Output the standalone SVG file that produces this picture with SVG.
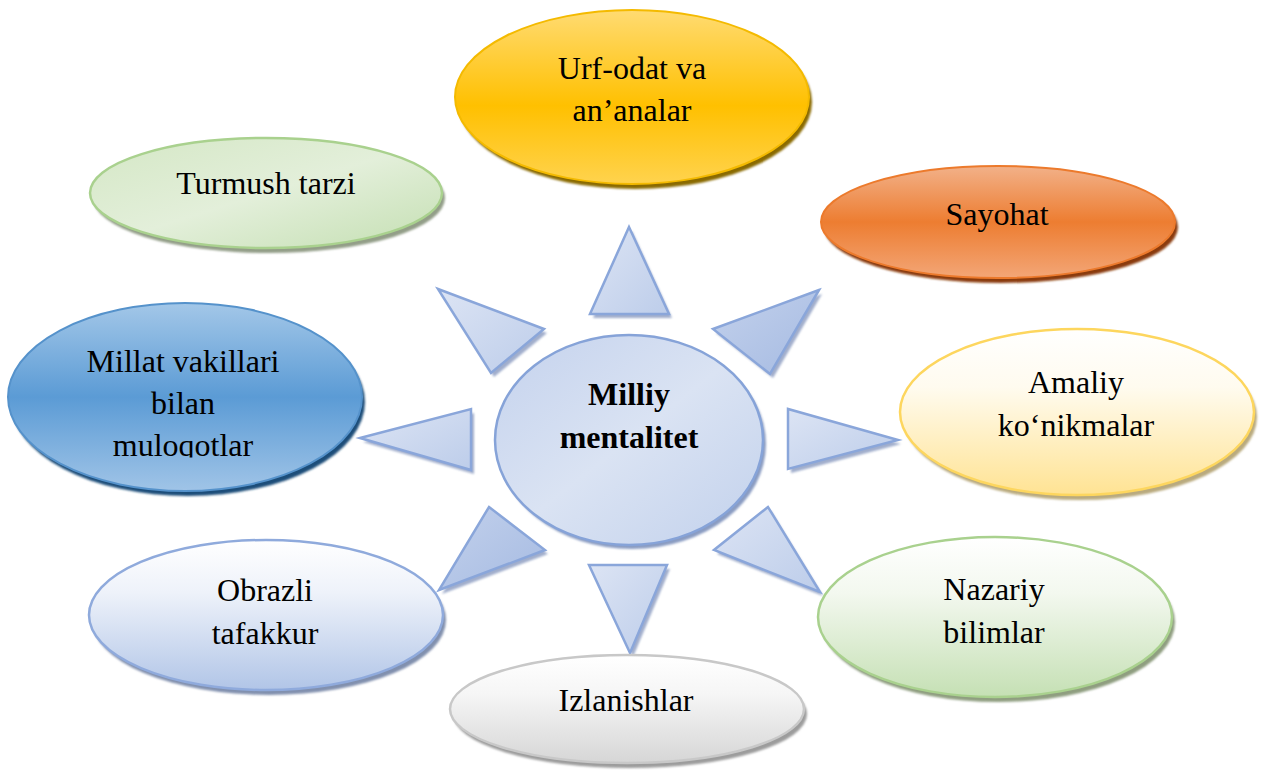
<svg xmlns="http://www.w3.org/2000/svg" width="1262" height="770" viewBox="0 0 1262 770">
<defs>
<style>
text{font-family:"Liberation Serif","Times New Roman",serif;font-size:32px;fill:#000;text-anchor:middle}
.b{font-weight:bold}
.tri{fill:url(#gTri);stroke:#8AA6DA;stroke-width:2.5;stroke-linejoin:miter}
.trid{fill:url(#gTriD);stroke:#8AA6DA;stroke-width:2.5;stroke-linejoin:miter}
.trs{fill:#8193bb;opacity:0.75;filter:url(#blur)}
.sh{filter:url(#blur)}
</style>
<filter id="blur" x="-10%" y="-10%" width="120%" height="130%"><feGaussianBlur stdDeviation="1.2"/></filter>
<linearGradient id="gUrf" x1="0" y1="0" x2="0" y2="1"><stop offset="0" stop-color="#FFDB72"/><stop offset="0.55" stop-color="#FFC000"/><stop offset="1" stop-color="#FFD34E"/></linearGradient>
<linearGradient id="gSay" x1="0" y1="0" x2="0" y2="1"><stop offset="0" stop-color="#F2B189"/><stop offset="0.5" stop-color="#ED7D31"/><stop offset="1" stop-color="#F3A677"/></linearGradient>
<linearGradient id="gAma" x1="0" y1="0" x2="0" y2="1"><stop offset="0" stop-color="#FFFFFF"/><stop offset="0.35" stop-color="#FFFBEF"/><stop offset="1" stop-color="#FFE393"/></linearGradient>
<linearGradient id="gNaz" x1="0" y1="0" x2="0" y2="1"><stop offset="0" stop-color="#FFFFFF"/><stop offset="0.35" stop-color="#F3F8EF"/><stop offset="1" stop-color="#C5E0B4"/></linearGradient>
<linearGradient id="gObr" x1="0" y1="0" x2="0" y2="1"><stop offset="0" stop-color="#FFFFFF"/><stop offset="0.35" stop-color="#EEF2FA"/><stop offset="1" stop-color="#B1C5E7"/></linearGradient>
<linearGradient id="gIzl" x1="0" y1="0" x2="0" y2="1"><stop offset="0" stop-color="#FFFFFF"/><stop offset="0.35" stop-color="#F6F6F6"/><stop offset="1" stop-color="#D6D6D6"/></linearGradient>
<linearGradient id="gMil" x1="0" y1="0" x2="0" y2="1"><stop offset="0" stop-color="#A3C7E8"/><stop offset="0.5" stop-color="#5B9BD5"/><stop offset="1" stop-color="#A0C4E7"/></linearGradient>
<linearGradient id="gTur" x1="0" y1="0" x2="1" y2="1"><stop offset="0" stop-color="#D4E7C5"/><stop offset="0.5" stop-color="#E3EFDA"/><stop offset="1" stop-color="#C4DFB2"/></linearGradient>
<linearGradient id="gCen" x1="0" y1="0" x2="1" y2="1"><stop offset="0" stop-color="#C4D2ED"/><stop offset="0.5" stop-color="#DAE3F3"/><stop offset="1" stop-color="#C2D1EC"/></linearGradient>
<linearGradient id="gTri" x1="0" y1="0" x2="1" y2="1"><stop offset="0" stop-color="#DCE4F4"/><stop offset="1" stop-color="#BDCDEA"/></linearGradient>
<linearGradient id="gTriD" x1="0" y1="0" x2="1" y2="1"><stop offset="0" stop-color="#C3D1EC"/><stop offset="1" stop-color="#A6BBE2"/></linearGradient>
<clipPath id="clipMul"><rect x="0" y="300" width="400" height="157.5"/></clipPath>
</defs>
<rect width="1262" height="770" fill="#FFFFFF"/>

<g id="connectors">
<polygon class="trs" points="632,231 593,318 672,318"/>
<polygon class="tri" points="629,227 590,314 669,314"/>
<polygon class="trs" points="441,293 547,333 494,377"/>
<polygon class="tri" points="438,289 544,329 491,373"/>
<polygon class="trs" points="822,294 716,333 773,378"/>
<polygon class="trid" points="819,290 713,329 770,374"/>
<polygon class="trs" points="363,442 474,413 474,474"/>
<polygon class="tri" points="360,438 471,409 471,470"/>
<polygon class="trs" points="901,444 791,413 791,473"/>
<polygon class="tri" points="898,440 788,409 788,469"/>
<polygon class="trs" points="492,511 548,554 442,594"/>
<polygon class="trid" points="489,507 545,550 439,590"/>
<polygon class="trs" points="592,569 670,569 633,657"/>
<polygon class="tri" points="589,565 667,565 630,653"/>
<polygon class="trs" points="771,511 717,554 823,596"/>
<polygon class="tri" points="768,507 714,550 820,592"/>
</g>

<g id="center">
<ellipse class="sh" cx="632" cy="444" rx="134" ry="105" fill="#8A9CC2"/>
<ellipse cx="629" cy="440" rx="134" ry="105" fill="url(#gCen)" stroke="#86A3D8" stroke-width="2.5"/>
<text class="b" x="629" y="405">Milliy</text>
<text class="b" x="629" y="448">mentalitet</text>
</g>

<g id="node-urf">
<ellipse class="sh" cx="635" cy="102" rx="177" ry="87" fill="#8A6A00"/>
<ellipse cx="632" cy="97" rx="177" ry="87" fill="url(#gUrf)" stroke="#F4BA00" stroke-width="2"/>
<text x="632" y="79">Urf-odat va</text>
<text x="632" y="121">an’analar</text>
</g>

<g id="node-sayohat">
<ellipse class="sh" cx="1001" cy="227" rx="177" ry="56" fill="#8A3B0A"/>
<ellipse cx="998" cy="222" rx="177" ry="56" fill="url(#gSay)" stroke="#EC7A2C" stroke-width="2"/>
<text x="997" y="225">Sayohat</text>
</g>

<g id="node-amaliy">
<ellipse class="sh" cx="1080" cy="417" rx="177" ry="83" fill="#B9AA7E"/>
<ellipse cx="1077" cy="412" rx="177" ry="83" fill="url(#gAma)" stroke="#FDD65E" stroke-width="2.5"/>
<text x="1076" y="393">Amaliy</text>
<text x="1076" y="436">ko‘nikmalar</text>
</g>

<g id="node-nazariy">
<ellipse class="sh" cx="998" cy="622" rx="177" ry="80" fill="#8F9E80"/>
<ellipse cx="995" cy="617" rx="177" ry="80" fill="url(#gNaz)" stroke="#A9D18E" stroke-width="2.5"/>
<text x="994" y="600">Nazariy</text>
<text x="994" y="643">bilimlar</text>
</g>

<g id="node-izlanishlar">
<ellipse class="sh" cx="630" cy="714" rx="177" ry="54" fill="#9C9C9C"/>
<ellipse cx="627" cy="709" rx="177" ry="54" fill="url(#gIzl)" stroke="#C8C8C8" stroke-width="2.5"/>
<text x="626" y="711">Izlanishlar</text>
</g>

<g id="node-obrazli">
<ellipse class="sh" cx="269" cy="620" rx="177" ry="75" fill="#8190AE"/>
<ellipse cx="266" cy="615" rx="177" ry="75" fill="url(#gObr)" stroke="#8FAADC" stroke-width="2.5"/>
<text x="265" y="601">Obrazli</text>
<text x="265" y="644">tafakkur</text>
</g>

<g id="node-millat">
<ellipse class="sh" cx="188" cy="402" rx="177" ry="94" fill="#1F4E79"/>
<ellipse cx="185" cy="397" rx="177" ry="94" fill="url(#gMil)" stroke="#5592CB" stroke-width="2"/>
<text x="183" y="372">Millat vakillari</text>
<text x="183" y="414">bilan</text>
<text x="183" y="456" clip-path="url(#clipMul)">muloqotlar</text>
</g>

<g id="node-turmush">
<ellipse class="sh" cx="269" cy="198" rx="176" ry="55" fill="#939E88"/>
<ellipse cx="266" cy="193" rx="176" ry="55" fill="url(#gTur)" stroke="#A9D18E" stroke-width="2.5"/>
<text x="266" y="194">Turmush tarzi</text>
</g>
</svg>
